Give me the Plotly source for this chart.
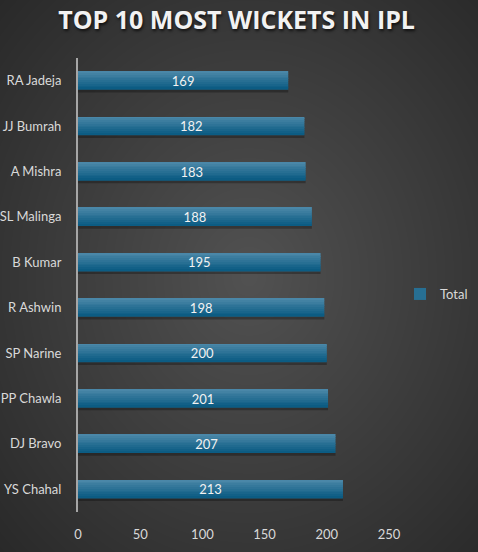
import base64, struct, zlib
import numpy as np
import plotly.graph_objects as go

players = ["RA Jadeja", "JJ Bumrah", "A Mishra", "SL Malinga", "B Kumar",
           "R Ashwin", "SP Narine", "PP Chawla", "DJ Bravo", "YS Chahal"]
wickets = [169, 182, 183, 188, 195, 198, 200, 201, 207, 213]
x_ticks = [0, 50, 100, 150, 200, 250]

W, H = 478, 552
L, R, T, B = 78, 89, 58, 40

# radial gradient background as PNG
yy, xx = np.mgrid[0:H, 0:W]
cx, cy = W * 0.52, H * 0.5
r = np.sqrt(((xx - cx) / (W * 0.75)) ** 2 + ((yy - cy) / (H * 0.75)) ** 2)
r = np.clip(r, 0, 1)
inner, outer = np.array([82, 82, 82]), np.array([40, 40, 40])
img = (inner[None, None, :] * (1 - r[..., None]) + outer[None, None, :] * r[..., None]).astype(np.uint8)

def png_bytes(a):
    h, w, _ = a.shape
    raw = b"".join(b"\x00" + a[i].tobytes() for i in range(h))
    def chunk(t, d):
        c = struct.pack(">I", len(d)) + t + d
        return c + struct.pack(">I", zlib.crc32(t + d) & 0xffffffff)
    return (b"\x89PNG\r\n\x1a\n" + chunk(b"IHDR", struct.pack(">IIBBBBB", w, h, 8, 2, 0, 0, 0))
            + chunk(b"IDAT", zlib.compress(raw, 9)) + chunk(b"IEND", b""))

bg = "data:image/png;base64," + base64.b64encode(png_bytes(img)).decode()
pw, ph = W - L - R, H - T - B

fig = go.Figure()

# shadow under bars
fig.add_trace(go.Bar(y=players, x=wickets, orientation="h", width=0.06, offset=0.2,
                     marker=dict(color="rgba(0,0,0,0.28)", line_width=0),
                     showlegend=False, hoverinfo="skip"))

# gradient stripes
n = 10
light = np.array([74, 135, 168])
dark = np.array([12, 92, 131])
bw = 0.4
for k in range(n):
    t = k / (n - 1)
    c = light * (1 - t) + dark * t
    col = "rgb(%d,%d,%d)" % tuple(c)
    fig.add_trace(go.Bar(y=players, x=wickets, orientation="h",
                         width=bw / n + 0.002, offset=-bw / 2 + k * bw / n,
                         marker=dict(color=col, line_width=0),
                         name="Total", showlegend=(k == 5), hoverinfo="skip"))

# labels
fig.add_trace(go.Bar(y=players, x=wickets, orientation="h", width=bw, offset=-bw / 2,
                     marker=dict(color="rgba(0,0,0,0)", line_width=0),
                     text=[str(v) for v in wickets], textposition="inside",
                     insidetextanchor="middle", constraintext="none", textangle=0,
                     textfont=dict(color="#f2f2f2", size=13, family="Lato"),
                     showlegend=False))

fig.update_layout(
    width=W, height=H,
    barmode="overlay",
    paper_bgcolor="#3a3a3a", plot_bgcolor="rgba(0,0,0,0)",
    margin=dict(l=L, r=R, t=T, b=B, autoexpand=False),
    images=[dict(source=bg, xref="paper", yref="paper", x=-L / pw, y=1 + T / ph,
                 sizex=W / pw, sizey=H / ph, xanchor="left", yanchor="top",
                 sizing="stretch", layer="below")],
    title=dict(text="<b>TOP 10 MOST WICKETS IN IPL</b>", x=0.495, xanchor="center",
               y=1 - 20 / H, yanchor="middle",
               font=dict(family="Open Sans", size=25, color="#f2f2f2",
                         shadow="1px 2px 3px rgba(0,0,0,0.7)")),
    font=dict(family="Lato", color="#d9d9d9", size=13),
    showlegend=True,
    legend=dict(xref="container", yref="container", x=400 / W, y=1 - 294 / H,
                xanchor="left", yanchor="middle",
                bgcolor="rgba(0,0,0,0)", font=dict(size=13, color="#d9d9d9"),
                itemwidth=30, traceorder="normal"),
    xaxis=dict(range=[0, 250], tickvals=x_ticks, showgrid=False, zeroline=False,
               showline=False, ticks="outside", ticklen=10, tickcolor="rgba(0,0,0,0)",
               tickfont=dict(size=13, color="#d9d9d9"), fixedrange=True, automargin=False),
    yaxis=dict(autorange="reversed", showgrid=False, zeroline=False,
               showline=True, linecolor="#a6a6a6", linewidth=2,
               ticks="outside", ticklen=12, tickcolor="rgba(0,0,0,0)",
               tickfont=dict(size=13, color="#d9d9d9"), automargin=False),
)

fig.write_html("out.html")
